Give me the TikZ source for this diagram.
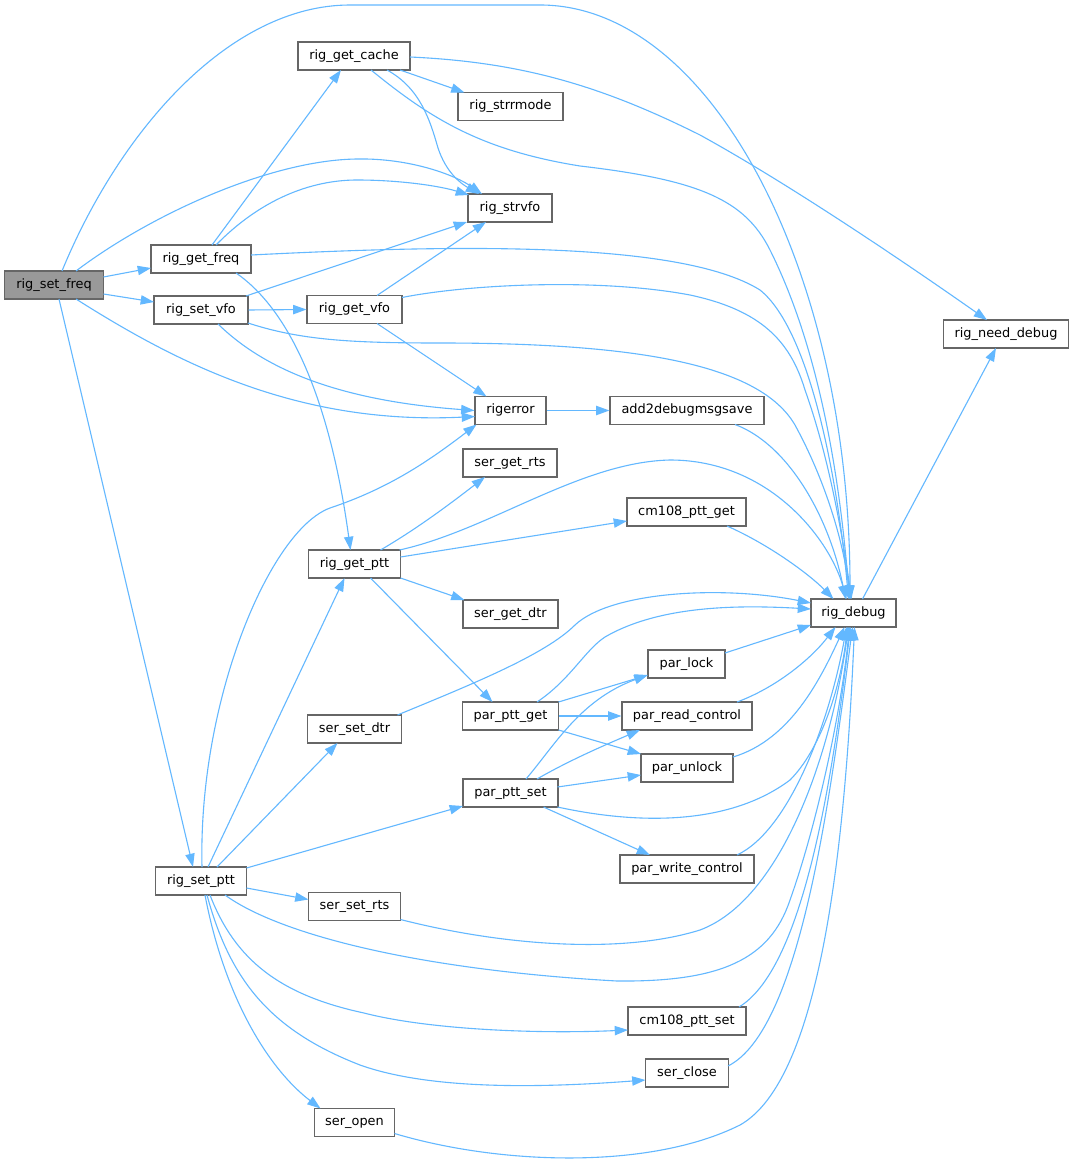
\documentclass[tikz,border=0pt]{standalone}
\usepackage{fontspec}
\setmainfont{DejaVu Sans}
\usetikzlibrary{arrows.meta,calc}
\definecolor{edgec}{HTML}{63B8FF}
\definecolor{boxc}{HTML}{666666}
\definecolor{focusc}{HTML}{999999}
\begin{document}
\begin{tikzpicture}[x=1pt,y=-1pt,
  fn/.style={draw=boxc, line width=1.1pt, fill=white, minimum height=28pt, inner xsep=0pt, inner ysep=0pt, text height=9.8pt, text depth=3.1pt, font=\fontsize{12.9}{14}\selectfont, anchor=center},
  conn/.style={draw=edgec, line width=1.1pt, -{Triangle[length=13.3pt,width=9.3pt]}},
]
\fill[white] (0,0) rectangle (1074,1164);
\useasboundingbox (0,0) rectangle (1074,1164);

\node[fn, fill=focusc, minimum width=99pt] (setfreq) at (54,285) {rig\_set\_freq};
\node[fn, minimum width=100pt] (getfreq) at (201,259) {rig\_get\_freq};
\node[fn, minimum width=94pt] (setvfo) at (201,310) {rig\_set\_vfo};
\node[fn, minimum width=112pt] (getcache) at (354,56) {rig\_get\_cache};
\node[fn, minimum width=105pt] (strrmode) at (510.5,106.5) {rig\_strrmode};
\node[fn, minimum width=84pt] (strvfo) at (510,208) {rig\_strvfo};
\node[fn, minimum width=95pt] (getvfo) at (354.5,309.5) {rig\_get\_vfo};
\node[fn, minimum width=71pt] (rigerror) at (510.5,410.5) {rigerror};
\node[fn, minimum width=154pt] (add2) at (687,410.5) {add2debugmsgsave};
\node[fn, minimum width=94pt] (sergetrts) at (510,463) {ser\_get\_rts};
\node[fn, minimum width=119pt] (cm108get) at (686.5,512) {cm108\_ptt\_get};
\node[fn, minimum width=92pt] (getptt) at (354.5,564) {rig\_get\_ptt};
\node[fn, minimum width=95pt] (sergetdtr) at (510.5,614) {ser\_get\_dtr};
\node[fn, minimum width=85pt] (rigdebug) at (853.5,613) {rig\_debug};
\node[fn, minimum width=125pt] (needdebug) at (1006,334) {rig\_need\_debug};
\node[fn, minimum width=77pt] (parlock) at (686.5,664) {par\_lock};
\node[fn, minimum width=94pt] (sersetdtr) at (354.5,729) {ser\_set\_dtr};
\node[fn, minimum width=96pt] (parpttget) at (510.5,716) {par\_ptt\_get};
\node[fn, minimum width=130pt] (parreadctl) at (687,716) {par\_read\_control};
\node[fn, minimum width=92pt] (parunlock) at (687,768) {par\_unlock};
\node[fn, minimum width=95pt] (parpttset) at (510.5,793) {par\_ptt\_set};
\node[fn, minimum width=134pt] (parwritectl) at (687,869) {par\_write\_control};
\node[fn, minimum width=91pt] (setptt) at (201,881) {rig\_set\_ptt};
\node[fn, minimum width=92pt] (sersetrts) at (354.5,906.5) {ser\_set\_rts};
\node[fn, minimum width=118pt] (cm108set) at (687,1021) {cm108\_ptt\_set};
\node[fn, minimum width=83pt] (serclose) at (687,1073) {ser\_close};
\node[fn, minimum width=80pt] (seropen) at (354.5,1122.5) {ser\_open};

% rig_set_freq
\draw[conn] ($(setfreq)+(8,-14)$) .. controls (120,130) and (230,5) .. (350,5) -- (540,5) .. controls (711,5) and (850,271) .. ($(rigdebug)+(-3.5,-14)$);
\draw[conn] ($(setfreq)+(22,-14)$) .. controls (150,215) and (270,160) .. (357,159) .. controls (410,158) and (455,175) .. ($(strvfo)+(-28,-14)$);
\draw[conn] ($(setfreq)+(49.5,-8)$) -- ($(getfreq)+(-50,9)$);
\draw[conn] ($(setfreq)+(49.5,9)$) -- ($(setvfo)+(-47,-8)$);
\draw[conn] ($(setfreq)+(22,14)$) .. controls (180,365) and (300,425) .. ($(rigerror)+(-35.5,6)$);
\draw[conn] ($(setfreq)+(5,14)$) -- ($(setptt)+(-8,-14)$);
% rig_get_freq
\draw[conn] ($(getfreq)+(11,-14)$) -- ($(getcache)+(-13,14)$);
\draw[conn] ($(getfreq)+(15,-14)$) .. controls (260,200) and (310,180) .. (357,180) .. controls (400,180) and (440,186) .. ($(strvfo)+(-41,-13)$);
\draw[conn] ($(getfreq)+(50,-4)$) .. controls (450,245) and (680,240) .. (760,290) .. controls (810,330) and (838,480) .. ($(rigdebug)+(-5,-14)$);
\draw[conn] ($(getfreq)+(35,14)$) .. controls (290,310) and (330,400) .. ($(getptt)+(-4,-14)$);
% rig_set_vfo
\draw[conn] ($(setvfo)+(45,-14)$) -- ($(strvfo)+(-43,14)$);
\draw[conn] (setvfo.east) -- (getvfo.west);
\draw[conn] ($(setvfo)+(47,13)$) .. controls (300,340) and (350,343) .. (440,343) .. controls (640,343) and (760,365) .. (795,425) .. controls (825,480) and (843,540) .. ($(rigdebug)+(-3,-14)$);
\draw[conn] ($(setvfo)+(17,14)$) .. controls (260,365) and (330,400) .. (rigerror.west);
% rig_get_cache
\draw[conn] ($(getcache)+(46,14)$) -- ($(strrmode)+(-46,-14)$);
\draw[conn] ($(getcache)+(33,14)$) .. controls (420,88) and (430,120) .. (438,148) .. controls (446,172) and (460,183) .. ($(strvfo)+(-31,-14)$);
\draw[conn] ($(getcache)+(17,14)$) .. controls (430,118) and (480,150) .. (580,166) .. controls (700,180) and (745,200) .. (770,250) .. controls (820,350) and (840,480) .. ($(rigdebug)+(-4,-14)$);
\draw[conn] ($(getcache)+(56,1)$) .. controls (520,62) and (600,85) .. (700,135) .. controls (800,190) and (930,280) .. ($(needdebug)+(-19,-14)$);
% rig_get_vfo
\draw[conn] ($(getvfo)+(22.5,-14)$) -- ($(strvfo)+(-24,14)$);
\draw[conn] ($(getvfo)+(47.5,-12)$) .. controls (470,284) and (600,278) .. (690,295) .. controls (760,310) and (790,340) .. (805,390) .. controls (830,460) and (843,540) .. ($(rigdebug)+(-2,-14)$);
\draw[conn] ($(getvfo)+(22.5,14)$) -- ($(rigerror)+(-24,-14)$);
% rigerror, add2debugmsgsave
\draw[conn] (rigerror.east) -- (add2.west);
\draw[conn] ($(add2)+(48,14)$) .. controls (790,445) and (830,520) .. ($(rigdebug)+(-8,-14)$);
% rig_get_ptt
\draw[conn] ($(getptt)+(26,-14)$) .. controls (420,527) and (455,500) .. ($(sergetrts)+(-25,14)$);
\draw[conn] ($(getptt)+(45,-14)$) .. controls (490,530) and (580,462) .. (670,460) .. controls (770,460) and (830,540) .. ($(rigdebug)+(-7,-14)$);
\draw[conn] ($(getptt)+(46,-7)$) -- ($(cm108get)+(-59.5,9)$);
\draw[conn] ($(getptt)+(46,14)$) -- ($(sergetdtr)+(-46,-14)$);
\draw[conn] ($(getptt)+(16,14)$) -- ($(parpttget)+(-18,-14)$);
\draw[conn] ($(cm108get)+(40.5,14)$) .. controls (770,545) and (810,575) .. ($(rigdebug)+(-20,-14)$);
\draw[conn] ($(rigdebug)+(9,-14)$) -- ($(needdebug)+(-10,14)$);
% ser_set_dtr
\draw[conn] ($(sersetdtr)+(43,-14)$) .. controls (470,685) and (545,655) .. (575,625) .. controls (610,592) and (720,585) .. ($(rigdebug)+(-42.5,-10)$);
% par_ptt_get
\draw[conn] ($(parpttget)+(26.5,-14)$) .. controls (570,680) and (585,650) .. (605,637) .. controls (660,605) and (740,605) .. ($(rigdebug)+(-42.5,-4)$);
\draw[conn] ($(parpttget)+(48,-14)$) -- ($(parlock)+(-38.5,11)$);
\draw[conn] (parpttget.east) -- (parreadctl.west);
\draw[conn] ($(parpttget)+(48,14)$) -- ($(parunlock)+(-46,-14)$);
\draw[conn] ($(parlock)+(38.5,-11)$) -- ($(rigdebug)+(-42.5,12)$);
\draw[conn] ($(parreadctl)+(50,-14)$) .. controls (775,688) and (810,660) .. ($(rigdebug)+(-18,14)$);
\draw[conn] ($(parunlock)+(46,-11)$) .. controls (790,740) and (820,680) .. ($(rigdebug)+(-9,14)$);
% par_ptt_set
\draw[conn] ($(parpttset)+(15.5,-14)$) .. controls (555,745) and (580,700) .. ($(parlock)+(-39,11)$);
\draw[conn] ($(parpttset)+(26.5,-14)$) .. controls (570,760) and (605,745) .. ($(parreadctl)+(-47,14)$);
\draw[conn] ($(parpttset)+(47,-6)$) -- ($(parunlock)+(-46,7)$);
\draw[conn] ($(parpttset)+(47,14)$) .. controls (640,825) and (730,825) .. (790,780) .. controls (820,750) and (840,690) .. ($(rigdebug)+(-6,14)$);
\draw[conn] ($(parpttset)+(33,14)$) -- ($(parwritectl)+(-37,-14)$);
\draw[conn] ($(parwritectl)+(50,-14)$) .. controls (790,830) and (830,720) .. ($(rigdebug)+(-7,14)$);
% rig_set_ptt
\draw[conn] ($(setptt)+(1,-14)$) .. controls (198,700) and (270,530) .. (330,508) .. controls (390,488) and (430,460) .. ($(rigerror)+(-34,14)$);
\draw[conn] ($(setptt)+(7,-14)$) -- ($(getptt)+(-10,14)$);
\draw[conn] ($(setptt)+(16,-14)$) -- ($(sersetdtr)+(-17,14)$);
\draw[conn] ($(setptt)+(45.5,-13)$) -- ($(parpttset)+(-47.5,13)$);
\draw[conn] ($(setptt)+(45.5,7)$) -- ($(sersetrts)+(-46,-7)$);
\draw[conn] ($(setptt)+(24,14)$) .. controls (280,935) and (420,970) .. (617,981) .. controls (720,982) and (770,960) .. (790,900) .. controls (815,830) and (840,720) .. ($(rigdebug)+(-4,14)$);
\draw[conn] ($(sersetrts)+(46,13)$) .. controls (500,945) and (620,955) .. (700,930) .. controls (780,900) and (830,760) .. ($(rigdebug)+(-5,14)$);
\draw[conn] ($(setptt)+(9,14)$) .. controls (235,960) and (280,995) .. (364,1013) .. controls (430,1030) and (540,1034) .. ($(cm108set)+(-59,9)$);
\draw[conn] ($(setptt)+(6,14)$) .. controls (230,980) and (270,1030) .. (360,1065) .. controls (430,1090) and (540,1088) .. ($(serclose)+(-41.5,7)$);
\draw[conn] ($(setptt)+(4,14)$) .. controls (225,1000) and (270,1070) .. ($(seropen)+(-34,-14)$);
\draw[conn] ($(cm108set)+(52,-14)$) .. controls (800,970) and (830,800) .. ($(rigdebug)+(-3,14)$);
\draw[conn] ($(serclose)+(41,-7)$) .. controls (800,1030) and (830,800) .. ($(rigdebug)+(-1,14)$);
\draw[conn] ($(seropen)+(40,11)$) .. controls (500,1165) and (650,1170) .. (740,1125) .. controls (820,1080) and (845,850) .. ($(rigdebug)+(1,14)$);
\end{tikzpicture}
\end{document}
